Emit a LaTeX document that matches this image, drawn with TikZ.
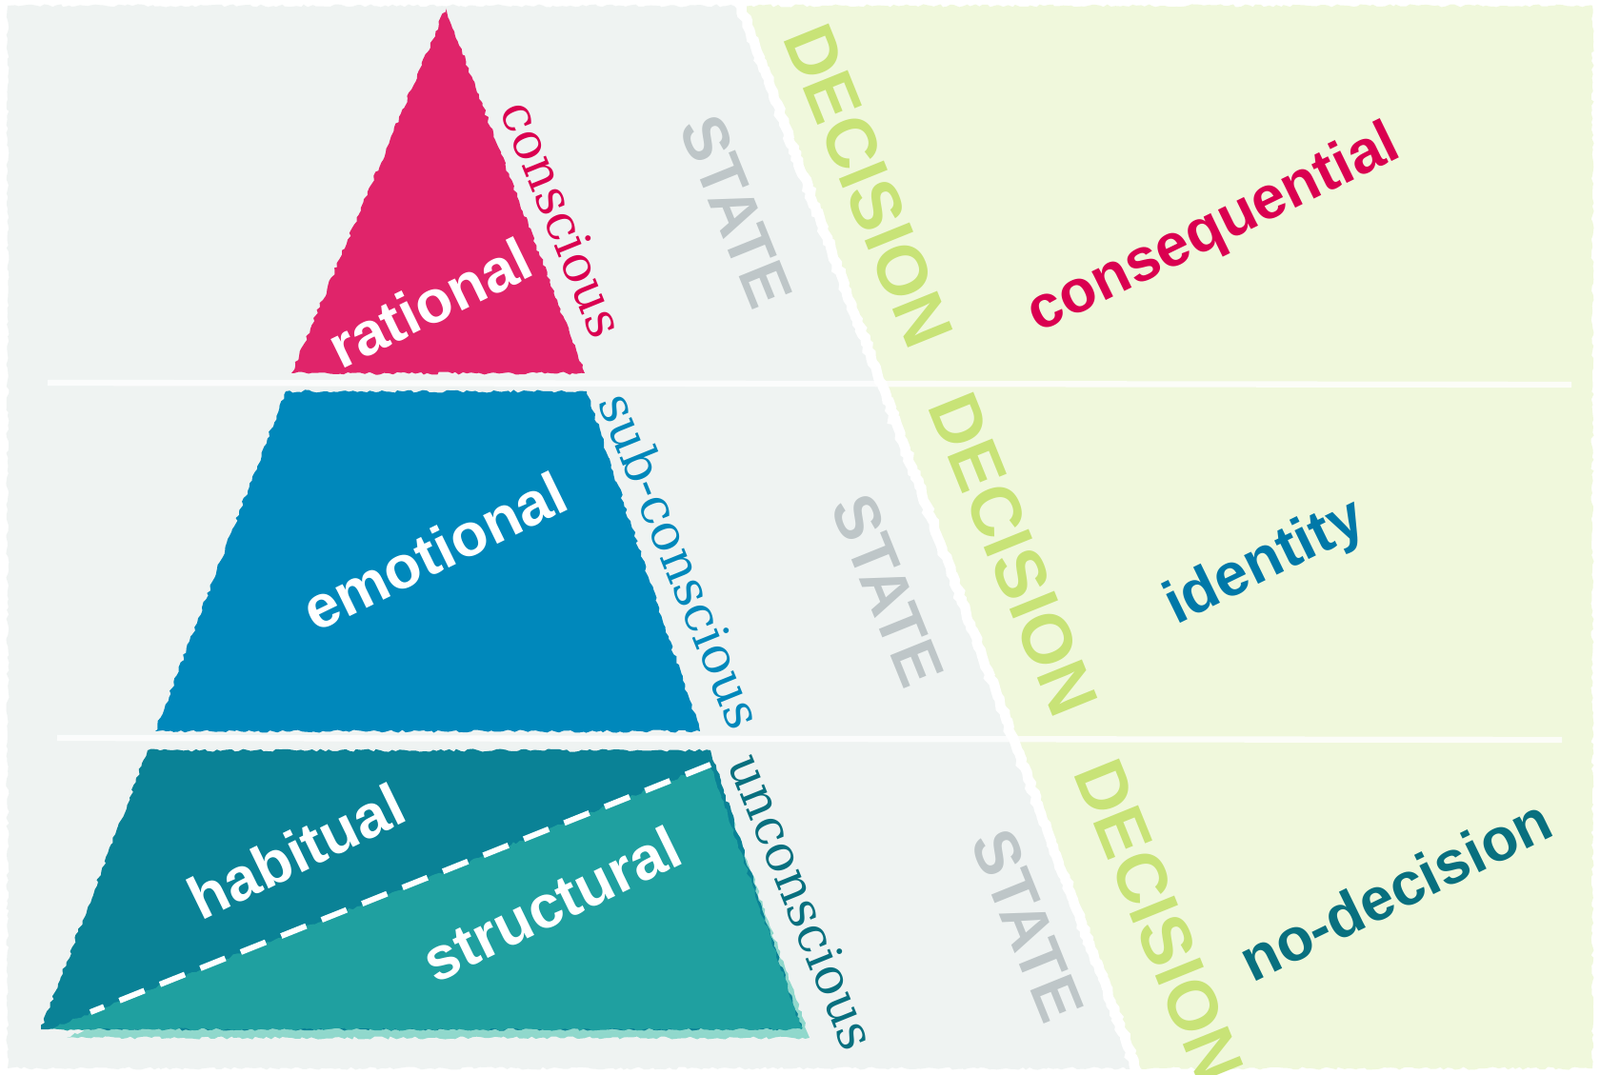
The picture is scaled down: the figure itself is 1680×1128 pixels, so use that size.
\documentclass[tikz,border=0pt]{standalone}
\usepackage{fontspec}
\setmainfont{Liberation Sans}
\newfontfamily\levelfont{DejaVu Serif}
\usetikzlibrary{decorations.pathmorphing}
\definecolor{stategray}{HTML}{BEC6C8}
\definecolor{bggray}{HTML}{EFF3F2}
\definecolor{bggreen}{HTML}{F0F8DC}
\definecolor{decgreen}{HTML}{C8E377}
\definecolor{rationalpink}{HTML}{E0246A}
\definecolor{emotionalblue}{HTML}{0088BB}
\definecolor{habitualteal}{HTML}{0A8296}
\definecolor{structuralteal}{HTML}{1FA0A0}
\definecolor{mint}{HTML}{90D8CC}
\definecolor{consred}{HTML}{DA0050}
\definecolor{identblue}{HTML}{0078A8}
\definecolor{nodecteal}{HTML}{08707F}

\begin{document}
\begin{tikzpicture}[x=0.01cm, y=-0.01cm,
    rough/.style={decorate, decoration={random steps, segment length=1.2pt, amplitude=0.45pt}},
    layerword/.style={text=white, font=\bfseries\fontsize{18}{20}\selectfont, rotate=26},
    levelword/.style={font=\levelfont\fontsize{15}{17}\selectfont, rotate=-68},
    stateword/.style={text=stategray, font=\bfseries\fontsize{19}{21}\selectfont, rotate=-68},
    decisionword/.style={text=decgreen, font=\bfseries\fontsize{21}{23}\selectfont, rotate=-68},
    outcomeword/.style={font=\bfseries\fontsize{18}{20}\selectfont, rotate=26},
    band/.style={white, opacity=0.8, line width=1.8pt}]
    \useasboundingbox [fill=white] (0,0) rectangle (1680,1128);
    % background: state side and decision side
    \fill [bggray, rough] (8,6) -- (775,6) -- (1195,1122) -- (8,1122) -- cycle;
    \fill [bggreen, rough] (775,6) -- (1672,6) -- (1672,1122) -- (1195,1122) -- cycle;
    \draw [white, line width=3pt, rough] (775,0) -- (1195,1128);
    \draw [band] (50,402) -- (1650,404);
    \draw [band] (60,775) -- (1640,777);
    % the pyramid
    \fill [rationalpink, rough] (468,9) -- (614,392) -- (306,392) -- cycle;
    \fill [emotionalblue, rough] (300,411) -- (616,411) -- (735,768) -- (163,768) -- cycle;
    \fill [mint, rough] (752,812) -- (850,1090) -- (70,1090) -- cycle;
    \fill [habitualteal, rough] (155,788) -- (746,788) -- (842,1081) -- (43,1081) -- cycle;
    \fill [structuralteal, rough] (746,803) -- (842,1081) -- (53,1081) -- cycle;
    \draw [white, line width=1.7pt, dash pattern=on 8pt off 5pt] (746,803) -- (95,1063);
    \node [layerword] (rational) at (451,318) {rational};
    \node [layerword] (emotional) at (456,579) {emotional};
    \node [layerword] (habitual) at (311,894) {habitual};
    \node [layerword] (structural) at (579,949) {structural};
    \node [levelword, text=consred] (conscious) at (591,230) {conscious};
    \node [levelword, text=emotionalblue] (subconscious) at (716,589) {sub-conscious};
    \node [levelword, text=nodecteal] (unconscious) at (843,947) {unconscious};
    % state / decision columns
    \node [stateword] (state1) at (773,222) {STATE};
    \node [stateword] (state2) at (932,620) {STATE};
    \node [stateword] (state3) at (1079,972) {STATE};
    \node [decisionword] (decision1) at (912,195) {DECISION};
    \node [decisionword] (decision2) at (1064,582) {DECISION};
    \node [decisionword] (decision3) at (1217,967) {DECISION};
    \node [outcomeword, text=consred] (consequential) at (1275,242) {consequential};
    \node [outcomeword, text=identblue] (identity) at (1329,592) {identity};
    \node [outcomeword, text=nodecteal] (nodecision) at (1465,934) {no-decision};
\end{tikzpicture}
\end{document}
